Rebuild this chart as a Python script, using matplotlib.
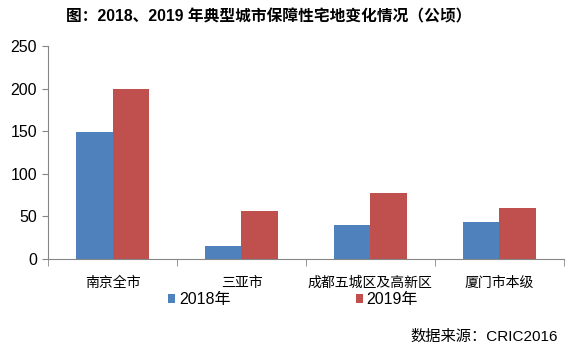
import numpy as np
import matplotlib.pyplot as plt
from matplotlib.ticker import FixedLocator

plt.rcParams['font.family'] = ['Liberation Sans', 'Noto Sans CJK SC', 'DejaVu Sans']

# data
cities = ["南京全市", "三亚市", "成都五城区及高新区", "厦门市本级"]
v2018 = [149, 15, 40, 43]
v2019 = [200, 56, 77, 60]
series = ["2018年", "2019年"]
colors = ["#4F81BD", "#C0504D"]

fig = plt.figure(figsize=(5.66, 3.51), dpi=100)
ax = fig.add_axes([0.085, 0.262, 0.911, 0.607])

x = np.arange(len(cities))
w = 0.285
b1 = ax.bar(x - w/2, v2018, w, color=colors[0], label=series[0])
b2 = ax.bar(x + w/2, v2019, w, color=colors[1], label=series[1])

ax.set_xlim(-0.5, len(cities) - 0.5)
ax.set_ylim(0, 250)
ax.set_yticks(range(0, 251, 50))
ax.tick_params(axis='y', labelsize=11.5, length=4, color='#868686', pad=4)

ax.set_xticks(x)
ax.set_xticklabels(cities, fontsize=10)
ax.tick_params(axis='x', length=0, pad=12)
ax.xaxis.set_minor_locator(FixedLocator(np.arange(-0.5, len(cities), 1.0)))
ax.tick_params(axis='x', which='minor', length=5, color='#868686', direction='out')

for s in ['top', 'right']:
    ax.spines[s].set_visible(False)
for s in ['left', 'bottom']:
    ax.spines[s].set_color('#868686')

leg = fig.legend(handles=[b1, b2], labels=series, loc='center', ncol=2,
                 bbox_to_anchor=(0.518, 0.147), frameon=False, fontsize=11.5,
                 handlelength=0.45, handleheight=0.45, handletextpad=0.25,
                 columnspacing=7.8)

fig.text(0.474, 0.952, "图：2018、2019 年典型城市保障性宅地变化情况（公顷）",
         ha='center', va='center', fontsize=11.3, fontweight='bold')
fig.text(0.985, 0.040, "数据来源：CRIC2016", ha='right', va='center', fontsize=11)

fig.savefig("out.png", dpi=100)
